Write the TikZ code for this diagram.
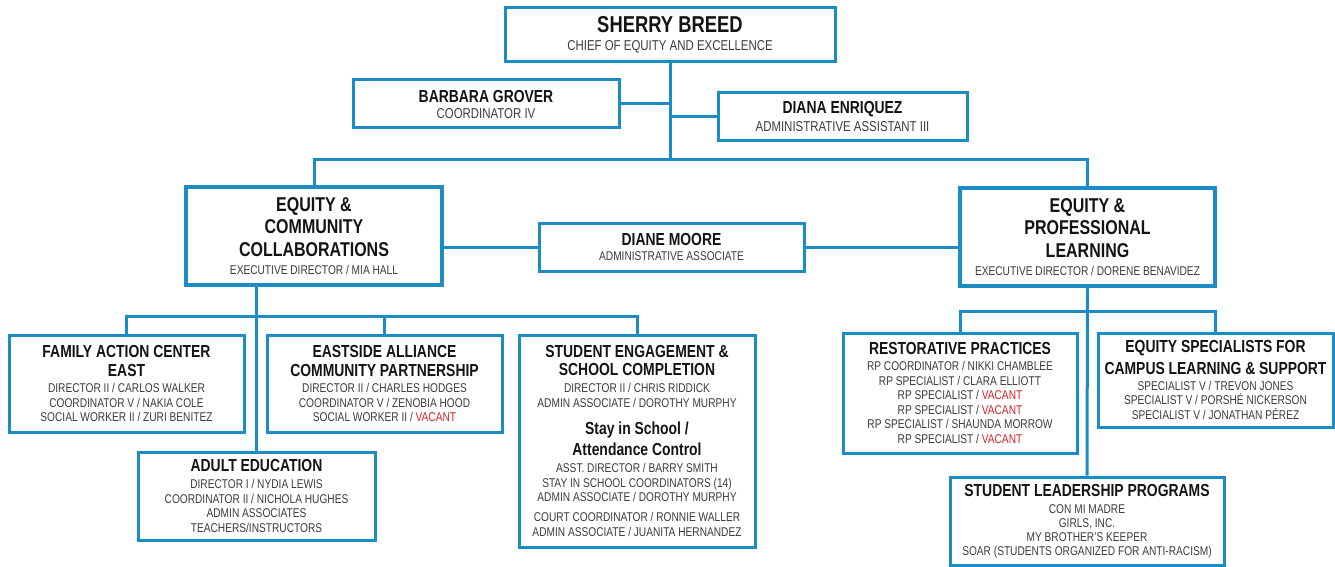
\documentclass[tikz,border=0pt]{standalone}
\usepackage{fontspec}
\setmainfont{Liberation Sans}[FakeStretch=0.8]
\definecolor{ln}{HTML}{1C8DC4}
\definecolor{bd}{HTML}{3C3C3C}
\definecolor{hd}{HTML}{141414}
\definecolor{vac}{HTML}{D2232A}
\newcommand{\TTL}{\color{hd}\fontsize{23}{14.5}\selectfont\bfseries}
\newcommand{\BIG}{\color{hd}\fontsize{20}{22.5}\selectfont\bfseries}
\newcommand{\HD}{\color{hd}\fontsize{17.4}{14.5}\selectfont\bfseries}
\newcommand{\SUB}{\fontsize{14.3}{14.5}\selectfont}
\newcommand{\VAC}[1]{\textcolor{vac}{#1}}
\begin{document}
\begin{tikzpicture}[x=1pt,y=-1pt,
  box/.style={draw=ln, line width=3pt, fill=white, inner sep=0pt, align=center,
    text=bd, font=\fontsize{12.7}{14.5}\selectfont},
  bigbox/.style={box, line width=3.5pt, font=\fontsize{12.7}{22.5}\selectfont},
  conn/.style={draw=ln, line width=3pt}]
\useasboundingbox[fill=white] (0,0) rectangle (1335,567);

\node[box, minimum width=330pt, minimum height=54pt] (breed) at (670,35)
  {{\TTL SHERRY BREED}\\[3.5pt]{\SUB CHIEF OF EQUITY AND EXCELLENCE}};
\node[box, minimum width=266pt, minimum height=48pt] (grover) at (486,104)
  {{\HD BARBARA GROVER}\\[1.5pt]{\SUB COORDINATOR IV}};
\node[box, minimum width=249pt, minimum height=47pt] (enriquez) at (842.5,116.5)
  {{\HD DIANA ENRIQUEZ}\\[3pt]{\SUB ADMINISTRATIVE ASSISTANT III}};

\node[bigbox, minimum width=256pt, minimum height=98pt] (ecc) at (314,236)
  {{\BIG EQUITY \&}\\{\BIG COMMUNITY}\\{\BIG COLLABORATIONS}\\[-4.5pt]EXECUTIVE DIRECTOR / MIA HALL};
\node[box, minimum width=265pt, minimum height=48pt] (moore) at (671.5,247)
  {{\HD DIANE MOORE}\\[0.5pt]ADMINISTRATIVE ASSOCIATE};
\node[bigbox, minimum width=255pt, minimum height=98pt] (epl) at (1087.5,237)
  {{\BIG EQUITY \&}\\{\BIG PROFESSIONAL}\\{\BIG LEARNING}\\[-4.5pt]EXECUTIVE DIRECTOR / DORENE BENAVIDEZ};

\node[box, minimum width=235pt, minimum height=97pt] (fac) at (126.5,383.5)
  {{\HD FAMILY ACTION CENTER}\\[4.5pt]{\HD EAST}\\[1.5pt]DIRECTOR II / CARLOS WALKER\\COORDINATOR V / NAKIA COLE\\SOCIAL WORKER II / ZURI BENITEZ};
\node[box, minimum width=235pt, minimum height=97pt] (eacp) at (384.5,383.5)
  {{\HD EASTSIDE ALLIANCE}\\[4.5pt]{\HD COMMUNITY PARTNERSHIP}\\[1.5pt]DIRECTOR II / CHARLES HODGES\\COORDINATOR V / ZENOBIA HOOD\\SOCIAL WORKER II / \VAC{VACANT}};
\node[box, minimum width=236pt, minimum height=212pt] (sesc) at (637,441)
  {{\HD STUDENT ENGAGEMENT \&}\\[3.5pt]{\HD SCHOOL COMPLETION}\\[2.5pt]DIRECTOR II / CHRIS RIDDICK\\ADMIN ASSOCIATE / DOROTHY MURPHY\\[12.5pt]{\HD Stay in School /}\\[4.5pt]{\HD Attendance Control}\\[2.5pt]ASST. DIRECTOR / BARRY SMITH\\STAY IN SCHOOL COORDINATORS (14)\\ADMIN ASSOCIATE / DOROTHY MURPHY\\[5.5pt]COURT COORDINATOR / RONNIE WALLER\\ADMIN ASSOCIATE / JUANITA HERNANDEZ};
\node[box, minimum width=237pt, minimum height=88pt] (adult) at (256.5,496)
  {{\HD ADULT EDUCATION}\\[2.5pt]DIRECTOR I / NYDIA LEWIS\\COORDINATOR II / NICHOLA HUGHES\\ADMIN ASSOCIATES\\TEACHERS/INSTRUCTORS};

\node[box, minimum width=234pt, minimum height=120pt] (rp) at (960,393)
  {{\HD RESTORATIVE PRACTICES}\\[1.5pt]RP COORDINATOR / NIKKI CHAMBLEE\\RP SPECIALIST / CLARA ELLIOTT\\RP SPECIALIST / \VAC{VACANT}\\RP SPECIALIST / \VAC{VACANT}\\RP SPECIALIST / SHAUNDA MORROW\\RP SPECIALIST / \VAC{VACANT}};
\node[box, minimum width=235pt, minimum height=94pt] (escl) at (1215.5,380)
  {{\HD EQUITY SPECIALISTS FOR}\\[4.5pt]{\HD CAMPUS LEARNING \& SUPPORT}\\[1.5pt]SPECIALIST V / TREVON JONES\\SPECIALIST V / PORSHÉ NICKERSON\\SPECIALIST V / JONATHAN PÉREZ};
\node[box, minimum width=274pt, minimum height=88pt] (slp) at (1087,521)
  {{\HD STUDENT LEADERSHIP PROGRAMS}\\[2.5pt]CON MI MADRE\\[-0.5pt]GIRLS, INC.\\[-0.5pt]MY BROTHER’S KEEPER\\[-0.5pt]SOAR (STUDENTS ORGANIZED FOR ANTI-RACISM)};

\coordinate (hub) at (670,159);
\coordinate (lhub) at (257,316);
\coordinate (rhub) at (1087,311);

\draw[conn] (breed.south) -- (hub);
\draw[conn] (grover.east) -- (grover.east -| hub);
\draw[conn] (enriquez.west) -- (enriquez.west -| hub);
\draw[conn] (ecc.north) -- (ecc.north |- hub) -- (epl.north |- hub) -- (epl.north);
\draw[conn] (moore.west -| ecc.east) -- (moore.west);
\draw[conn] (moore.east) -- (moore.east -| epl.west);

\draw[conn] (adult.north |- ecc.south) -- (adult.north);
\draw[conn] (fac.north) -- (fac.north |- lhub) -- (sesc.north |- lhub) -- (sesc.north);
\draw[conn] (eacp.north) -- (eacp.north |- lhub);

\draw[conn] (epl.south) -- (slp.north);
\draw[conn] (rp.north) -- (rp.north |- rhub) -- (escl.north |- rhub) -- (escl.north);
\end{tikzpicture}
\end{document}
